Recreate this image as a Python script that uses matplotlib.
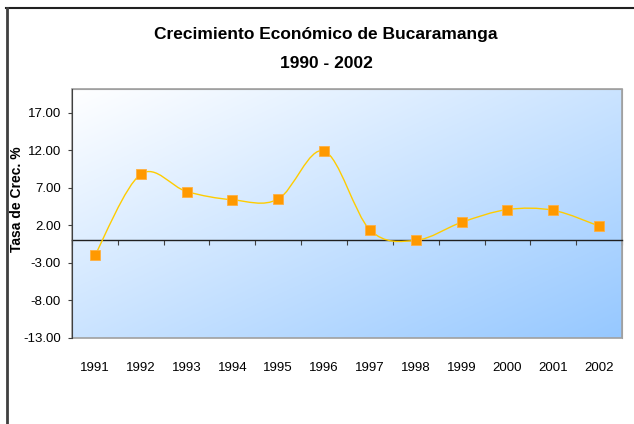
import numpy as np
import matplotlib.pyplot as plt
from matplotlib.path import Path
from matplotlib.patches import PathPatch, Rectangle
from matplotlib.lines import Line2D

plt.rcParams['font.family'] = ['Liberation Sans', 'DejaVu Sans']

years = ["1991", "1992", "1993", "1994", "1995", "1996",
         "1997", "1998", "1999", "2000", "2001", "2002"]
growth = [-2.0, 8.8, 6.5, 5.4, 5.5, 11.9, 1.4, 0.0, 2.4, 4.1, 4.0, 1.9]
y_ticks = [-13, -8, -3, 2, 7, 12, 17]


def smooth_path(xs, ys):
    # excel-style smoothed line: cubic bezier through every point
    pts = np.column_stack([xs, ys]).astype(float)
    n = len(pts)
    verts = [pts[0]]
    codes = [Path.MOVETO]
    for i in range(n - 1):
        p0 = pts[max(i - 1, 0)]
        p1 = pts[i]
        p2 = pts[i + 1]
        p3 = pts[min(i + 2, n - 1)]
        c1 = p1 + (p2 - p0) / 6.0
        c2 = p2 - (p3 - p1) / 6.0
        verts += [c1, c2, p2]
        codes += [Path.CURVE4] * 3
    return Path(verts, codes)


fig = plt.figure(figsize=(6.34, 4.24), dpi=100)
ax = fig.add_axes([72 / 634, 1 - 338 / 424, 550 / 634, 249 / 424])

# gradient background, white top-left to light blue bottom-right
gx, gy = np.meshgrid(np.linspace(0, 1, 200), np.linspace(0, 1, 200))
t = (gx + gy) / 2
white = np.array([1.0, 1.0, 1.0])
blue = np.array([150, 200, 255]) / 255
img = white[None, None, :] * (1 - t[..., None]) + blue[None, None, :] * t[..., None]
ax.imshow(img, extent=[0, 1, 0, 1], transform=ax.transAxes, aspect='auto', zorder=0)

x = np.arange(len(years))
ax.add_patch(PathPatch(smooth_path(x, growth), facecolor='none',
                       edgecolor='#ffcc00', lw=1.0, zorder=3))
ax.plot(x, growth, ls='none', marker='s', ms=6.5, mfc='#ff9900',
        mec='#ffb040', mew=0.6, zorder=4)

ax.set_xlim(-0.5, len(years) - 0.5)
ax.set_ylim(-13, 20.15)

# category axis crosses at zero
ax.spines['bottom'].set_position(('data', 0))
ax.spines['bottom'].set_color('#202020')
ax.spines['bottom'].set_linewidth(1.0)
ax.set_xticks(np.arange(-0.5, len(years), 1.0))
ax.tick_params(axis='x', direction='out', length=3.5, color='#404040',
               labelbottom=False)

sec = ax.secondary_xaxis('bottom')
sec.set_xticks(x)
sec.set_xticklabels(years)
sec.tick_params(length=0, pad=17, labelsize=9.5)
sec.spines['bottom'].set_visible(False)

ax.set_yticks(y_ticks)
ax.set_yticklabels([f"{v:.2f}" for v in y_ticks])
ax.tick_params(axis='y', direction='out', length=3, color='#404040',
               labelsize=9.5, pad=5)
ax.spines['left'].set_color('#404040')
ax.spines['top'].set_color('#a0a0a0')
ax.spines['right'].set_color('#a0a0a0')
ax.add_patch(Rectangle((0, 0), 1, 1, transform=ax.transAxes, fill=False,
                       edgecolor='#a0a0a0', lw=1.2, clip_on=False, zorder=1))
ax.spines['left'].set_zorder(5)

ax.set_ylabel("Tasa de Crec. %", fontsize=10, fontweight='bold')
ax.yaxis.set_label_coords((24 - 72) / 550, (338 - 199) / 249)

fig.text(326 / 634, 1 - 35 / 424, "Crecimiento Económico de Bucaramanga",
         ha='center', va='center', fontsize=12.5, fontweight='bold')
fig.text(326 / 634, 1 - 63 / 424, "1990 - 2002",
         ha='center', va='center', fontsize=12.5, fontweight='bold')

# outer chart frame (cropped)
fig.add_artist(Line2D([6 / 634, 1], [1 - 8 / 424, 1 - 8 / 424],
                      transform=fig.transFigure, color='#202020', lw=1.5))
fig.add_artist(Line2D([7 / 634, 7 / 634], [1 - 8 / 424, 0],
                      transform=fig.transFigure, color='#404040', lw=2.0))

fig.savefig("out.png", dpi=100)
